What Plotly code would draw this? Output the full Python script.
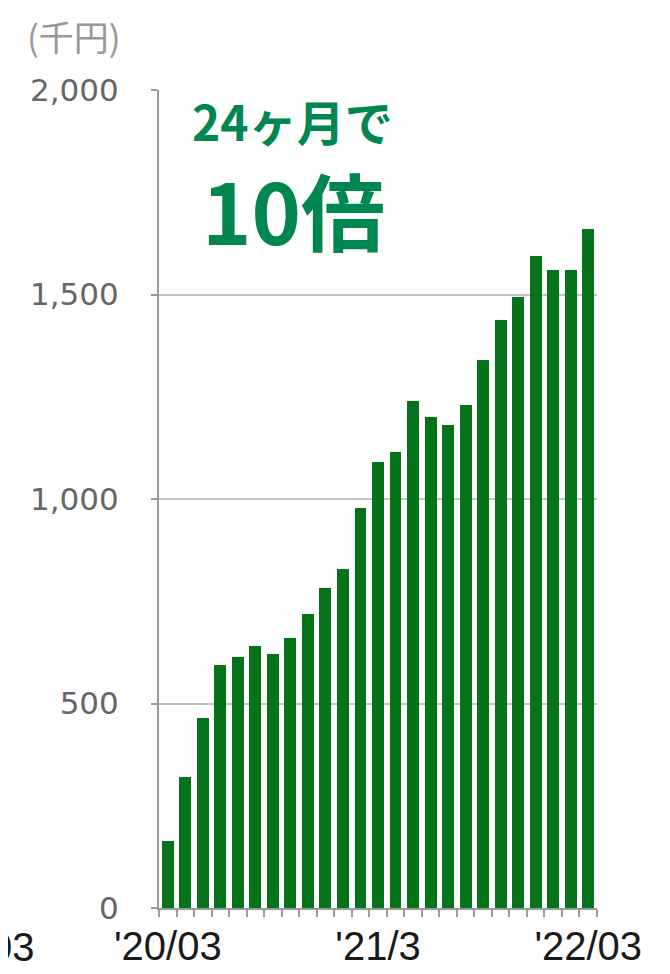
import plotly.graph_objects as go

months = ["2020-03", "2020-04", "2020-05", "2020-06", "2020-07", "2020-08", "2020-09",
          "2020-10", "2020-11", "2020-12", "2021-01", "2021-02", "2021-03", "2021-04",
          "2021-05", "2021-06", "2021-07", "2021-08", "2021-09", "2021-10", "2021-11",
          "2021-12", "2022-01", "2022-02", "2022-03"]
values = [165, 321, 465, 595, 614, 641, 622, 661, 720, 782, 829, 978, 1091, 1115,
          1240, 1201, 1182, 1229, 1339, 1437, 1495, 1593, 1561, 1561, 1659]

x_tick_months = ["2020-03", "2021-03", "2022-03"]
x_tick_labels = ["'20/03", "'21/3", "'22/03"]
y_tick_vals = [0, 500, 1000, 1500, 2000]
y_tick_labels = ["0", "500", "1,000", "1,500", "2,000"]

unit_label = "(千円)"
headline1 = "24ヶ月で"
headline2 = "10倍"
cut_label = "03"

GREEN_BAR = "#04731A"
GREEN_TXT = "#00874F"
AXIS = "#9a9a9a"
GRID = "#c4c4c4"

xpos = list(range(len(months)))
tickpos = [months.index(m) for m in x_tick_months]

fig = go.Figure(go.Bar(x=xpos, y=values, width=0.68, marker=dict(color=GREEN_BAR, line=dict(width=0)),
                       hovertext=months))

OFF = 8  # page body margin
W, H = 670 - OFF, 974 - OFF
ml, mt = 159 - OFF, 90 - OFF
mr = W - (597 - OFF)
mb = H - (908 - OFF)
pw, ph = W - ml - mr, H - mt - mb

def px(xs):
    return (xs - OFF - ml) / pw

def py(ys):
    return (H - mb - (ys - OFF)) / ph

fig.update_layout(
    width=W, height=H,
    margin=dict(l=ml, r=mr, t=mt, b=mb, pad=0, autoexpand=False),
    plot_bgcolor="white", paper_bgcolor="white",
    showlegend=False,
    bargap=0,
    xaxis=dict(
        automargin=False,
        range=[-0.5, len(months) - 0.5],
        tickvals=tickpos, ticktext=x_tick_labels,
        ticks="", showgrid=False, zeroline=False,
        showline=True, linecolor=AXIS, linewidth=2,
        tickfont=dict(family="Liberation Sans", size=40, color="#1a1a1a"),
        ticklabelstandoff=2,
        minor=dict(tick0=-0.5, dtick=1, ticks="outside", ticklen=7, tickwidth=2,
                   tickcolor=AXIS, showgrid=False),
    ),
    yaxis=dict(
        automargin=False,
        range=[0, 2000],
        tickvals=y_tick_vals, ticktext=y_tick_labels,
        ticks="outside", ticklen=6, tickwidth=2, tickcolor=AXIS,
        showgrid=True, gridcolor=GRID, gridwidth=2,
        showline=True, linecolor=AXIS, linewidth=2, zeroline=False,
        tickfont=dict(family="DejaVu Sans", size=31, color="#666666"),
        ticklabelstandoff=26,
    ),
    annotations=[
        dict(text=unit_label, xref="paper", yref="paper", x=px(25), y=py(35),
             xanchor="left", yanchor="middle", showarrow=False,
             font=dict(family="Noto Sans CJK JP", size=35, color="#999999")),
        dict(text=headline1, xref="paper", yref="paper", x=px(292), y=py(120),
             xanchor="center", yanchor="middle", showarrow=False,
             font=dict(family="Noto Sans CJK JP", size=48, color=GREEN_TXT, weight="bold")),
        dict(text=headline2, xref="paper", yref="paper", x=px(293), y=py(208),
             xanchor="center", yanchor="middle", showarrow=False,
             font=dict(family="Noto Sans CJK JP", size=84, color=GREEN_TXT, weight="bold")),
        dict(text=cut_label, xref="paper", yref="paper", x=px(37), y=py(947),
             xanchor="right", yanchor="middle", showarrow=False,
             font=dict(family="Liberation Sans", size=40, color="#1a1a1a")),
    ],
)

fig.write_html("out.html")
